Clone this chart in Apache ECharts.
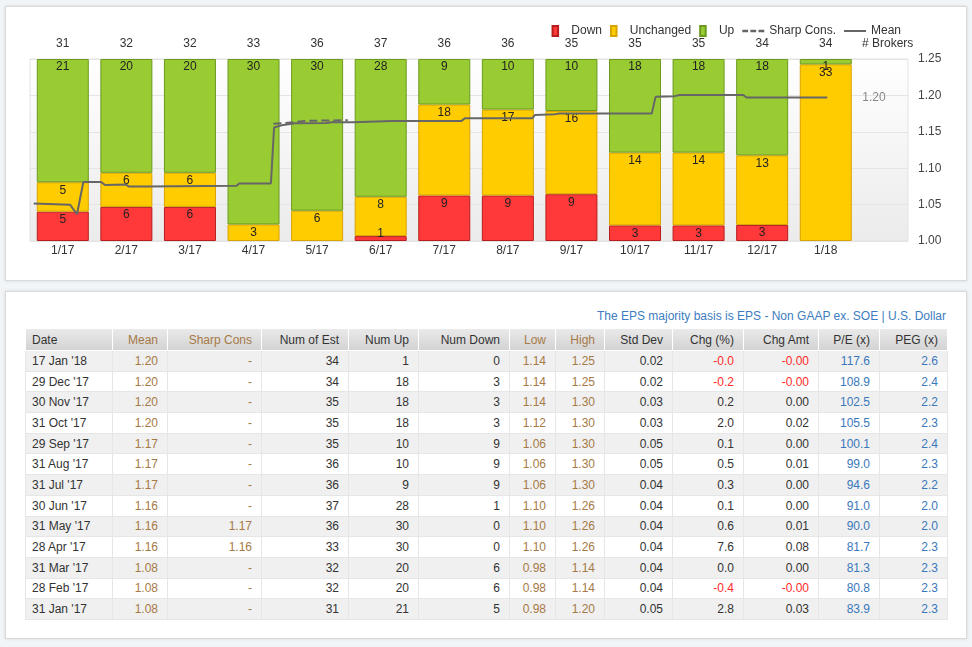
<!DOCTYPE html>
<html>
<head>
<meta charset="utf-8">
<title>EPS Estimates</title>
<script src="https://cdn.jsdelivr.net/npm/echarts@6/dist/echarts.min.js"></script>
<style>
  body { margin: 0; background: #f2f5f7; font-family: Arial, "Liberation Sans", sans-serif; }
  .panel { position: absolute; left: 5px; width: 960px; background: #fff; border: 1px solid #d9d9d9; box-shadow: 0 0 3px rgba(0,0,0,0.12); }
  #top-panel { top: 6px; height: 273px; }
  #bottom-panel { top: 291px; height: 346px; }
  #chart { position: absolute; left: 0; top: 0; width: 972px; height: 285px; }
  #basis { position: absolute; right: 26px; top: 309px; font-size: 12px; color: #3d7cc0; }
  #est-table { position: absolute; left: 25px; top: 329px; width: 922px; border-collapse: collapse; table-layout: fixed; font-size: 12px; color: #333; }
  #est-table th { height: 21px; padding: 0 9px 0 6px; font-weight: normal; text-align: right; background: linear-gradient(#e9e9e9, #d3d3d3); border: 1px solid #fff; border-top: 0; }
  #est-table td { height: 19.7px; padding: 0 9px 0 6px; text-align: right; border: 1px solid #e6e6e6; }
  #est-table tr:nth-child(even) td { background: #f0f0f0; }
  #est-table .left { text-align: left; }
  .brown { color: #a67a47; }
  .neg { color: #ff2b2b; }
  .blue { color: #3a78bb; }
</style>
</head>
<body>
<div id="top-panel" class="panel"></div>
<div id="bottom-panel" class="panel"></div>
<div id="chart"></div>
<div id="basis">The EPS majority basis is EPS - Non GAAP ex. SOE | U.S. Dollar</div>
<table id="est-table"></table>
<script>
  // chart data, one entry per month
  var months = ['1/17','2/17','3/17','4/17','5/17','6/17','7/17','8/17','9/17','10/17','11/17','12/17','1/18'];
  var brokers = [31, 32, 32, 33, 36, 37, 36, 36, 35, 35, 35, 34, 34];
  var downCount = [5, 6, 6, 0, 0, 1, 9, 9, 9, 3, 3, 3, 0];
  var unchCount = [5, 6, 6, 3, 6, 8, 18, 17, 16, 14, 14, 13, 33];
  var upCount = [21, 20, 20, 30, 30, 28, 9, 10, 10, 18, 18, 18, 1];

  // mean / sharp consensus tracks (x in months from 1/17)
  var meanX = [-0.46, 0.11, 0.22, 0.32, 0.60, 0.66, 0.99, 1.03, 1.32, 1.35, 2.73, 2.77, 3.27, 3.32, 3.44, 3.65, 4.15, 4.22, 4.56, 5.17, 6.27, 6.32, 7.38, 7.42, 7.74, 7.79, 9.26, 9.32, 9.62, 9.70, 10.70, 10.75, 12.02];
  var meanY = [1.0515, 1.0499, 1.0367, 1.081, 1.081, 1.077, 1.0776, 1.075, 1.075, 1.076, 1.076, 1.079, 1.079, 1.156, 1.159, 1.1617, 1.162, 1.163, 1.163, 1.165, 1.165, 1.1685, 1.1685, 1.173, 1.174, 1.175, 1.175, 1.198, 1.199, 1.2005, 1.2005, 1.197, 1.197];
  var sharpX = [3.31, 3.49, 3.83, 4.48];
  var sharpY = [1.161, 1.162, 1.165, 1.166];
  var meanTicks = [1.00, 1.05, 1.10, 1.15, 1.20, 1.25];

  // table data, newest first
  var tDate = ["17 Jan '18","29 Dec '17","30 Nov '17","31 Oct '17","29 Sep '17","31 Aug '17","31 Jul '17","30 Jun '17","31 May '17","28 Apr '17","31 Mar '17","28 Feb '17","31 Jan '17"];
  var tMean = ['1.20','1.20','1.20','1.20','1.17','1.17','1.17','1.16','1.16','1.16','1.08','1.08','1.08'];
  var tSharp = ['-','-','-','-','-','-','-','-','1.17','1.16','-','-','-'];
  var tNumEst = [34,34,35,35,35,36,36,37,36,33,32,32,31];
  var tNumUp = [1,18,18,18,10,10,9,28,30,30,20,20,21];
  var tNumDown = [0,3,3,3,9,9,9,1,0,0,6,6,5];
  var tLow = ['1.14','1.14','1.14','1.12','1.06','1.06','1.06','1.10','1.10','1.10','0.98','0.98','0.98'];
  var tHigh = ['1.25','1.25','1.30','1.30','1.30','1.30','1.30','1.26','1.26','1.26','1.14','1.14','1.20'];
  var tStd = ['0.02','0.02','0.03','0.03','0.05','0.05','0.04','0.04','0.04','0.04','0.04','0.04','0.05'];
  var tChgPct = ['-0.0','-0.2','0.2','2.0','0.1','0.5','0.3','0.1','0.6','7.6','0.0','-0.4','2.8'];
  var tChgAmt = ['-0.00','-0.00','0.00','0.02','0.00','0.01','0.00','0.00','0.01','0.08','0.00','-0.00','0.03'];
  var tPE = ['117.6','108.9','102.5','105.5','100.1','99.0','94.6','91.0','90.0','81.7','81.3','80.8','83.9'];
  var tPEG = ['2.6','2.4','2.2','2.3','2.4','2.3','2.2','2.0','2.0','2.3','2.3','2.3','2.3'];

  var headers = ['Date','Mean','Sharp Cons','Num of Est','Num Up','Num Down','Low','High','Std Dev','Chg (%)','Chg Amt','P/E (x)','PEG (x)'];
  var colW = [87, 55, 94, 87, 70, 91, 46, 49, 68, 71, 75, 61, 68];

  ;(function () {
    var html = '<colgroup>';
    colW.forEach(function (w) { html += '<col style="width:' + w + 'px">'; });
    html += '</colgroup><tr>';
    headers.forEach(function (h, i) {
      var cls = (i === 0 ? 'left' : '') + ([1, 2, 6, 7].indexOf(i) >= 0 ? ' brown' : '');
      html += '<th class="' + cls + '">' + h + '</th>';
    });
    html += '</tr>';
    for (var r = 0; r < tDate.length; r++) {
      var neg1 = tChgPct[r].charAt(0) === '-' ? 'neg' : '';
      var neg2 = tChgAmt[r].charAt(0) === '-' ? 'neg' : '';
      html += '<tr>' +
        '<td class="left">' + tDate[r] + '</td>' +
        '<td class="brown">' + tMean[r] + '</td>' +
        '<td class="brown">' + tSharp[r] + '</td>' +
        '<td>' + tNumEst[r] + '</td>' +
        '<td>' + tNumUp[r] + '</td>' +
        '<td>' + tNumDown[r] + '</td>' +
        '<td class="brown">' + tLow[r] + '</td>' +
        '<td class="brown">' + tHigh[r] + '</td>' +
        '<td>' + tStd[r] + '</td>' +
        '<td class="' + neg1 + '">' + tChgPct[r] + '</td>' +
        '<td class="' + neg2 + '">' + tChgAmt[r] + '</td>' +
        '<td class="blue">' + tPE[r] + '</td>' +
        '<td class="blue">' + tPEG[r] + '</td>' +
        '</tr>';
    }
    document.getElementById('est-table').innerHTML = html;
  })();

  ;(function () {
    var myChart = echarts.init(document.getElementById('chart'));

    // share of brokers, zero counts left empty; a thin bottom bar keeps its label inside the plot
    function pctData(counts, atBottom) {
      return counts.map(function (c, i) {
        if (!c) return null;
        var pct = c / brokers[i] * 100;
        if (atBottom && pct < 8) {
          return { value: pct, label: { position: 'insideBottom', distance: 1 } };
        }
        return pct;
      });
    }
    function barLabel(counts) {
      return {
        show: true, position: 'insideTop', distance: 2,
        color: '#222', fontSize: 12, fontFamily: 'Arial',
        formatter: function (p) { return counts[p.dataIndex] ? String(counts[p.dataIndex]) : ''; }
      };
    }
    var meanData = meanX.map(function (x, i) { return [x, meanY[i]]; });
    var sharpData = sharpX.map(function (x, i) { return [x, sharpY[i]]; });
    var rectIcon = 'path://M0,0H5V9H0Z';
    var slot = 63.58;
    var xMin = -0.519, xMax = 13.29;

    var option = {
      animation: false,
      textStyle: { fontFamily: 'Arial, "Liberation Sans", sans-serif' },
      legend: {
        right: 66, top: 20, itemWidth: 22, itemHeight: 10, itemGap: 8,
        textStyle: { color: '#333', fontSize: 12 },
        data: [
          { name: 'Down', icon: rectIcon },
          { name: 'Unchanged', icon: rectIcon },
          { name: 'Up', icon: rectIcon },
          { name: 'Sharp Cons.', icon: 'path://M0,0h5v2h-5z M7,0h5v2h-5z M14,0h5v2h-5z' },
          { name: 'Mean', icon: 'path://M0,0h22v2h-22z' }
        ]
      },
      graphic: [{
        type: 'text', left: 862, top: 38,
        style: { text: '# Brokers', fill: '#333', font: '12px Arial' }
      }],
      grid: [{
        // bars: 13 month slots
        left: 31, width: slot * 13, top: 59, height: 182
      }, {
        // plot frame, right axis and lines
        left: 30, right: 64, top: 59, height: 182, show: true,
        borderColor: '#e3e3e3', borderWidth: 1,
        backgroundColor: { type: 'linear', x: 0, y: 0, x2: 0, y2: 1,
          colorStops: [{ offset: 0, color: '#ffffff' }, { offset: 1, color: '#ebebeb' }] }
      }],
      xAxis: [{
        type: 'category', gridIndex: 0, data: months,
        axisLine: { show: false }, axisTick: { show: false }, splitLine: { show: false },
        axisLabel: { interval: 0, margin: 4, color: '#333', fontSize: 12 }
      }, {
        type: 'category', gridIndex: 0, position: 'top', data: brokers.map(String),
        axisLine: { show: false }, axisTick: { show: false }, splitLine: { show: false },
        axisLabel: { interval: 0, margin: 9, color: '#333', fontSize: 12 }
      }, {
        type: 'value', gridIndex: 1, min: xMin, max: xMax, show: false, splitLine: { show: false }
      }],
      yAxis: [{
        type: 'value', gridIndex: 0, min: 0, max: 100, show: false, splitLine: { show: false }
      }, {
        type: 'value', gridIndex: 1, position: 'right', min: meanTicks[0], max: meanTicks[meanTicks.length - 1], interval: 0.05,
        axisLine: { show: false },
        axisTick: { show: true, length: 8, lineStyle: { color: '#e0e0e0' } },
        splitLine: { lineStyle: { color: '#e4e4e4' } },
        axisLabel: { margin: 10, color: '#444', fontSize: 12, formatter: function (v) { return v.toFixed(2); } }
      }],
      series: [{
        name: 'Down', type: 'bar', stack: 'brk', barWidth: 52, xAxisIndex: 0, yAxisIndex: 0,
        itemStyle: { color: '#ff3939', borderColor: '#b81d1d', borderWidth: 1 },
        label: barLabel(downCount), data: pctData(downCount, true)
      }, {
        name: 'Unchanged', type: 'bar', stack: 'brk', barWidth: 52, xAxisIndex: 0, yAxisIndex: 0,
        itemStyle: { color: '#ffcc00', borderColor: '#d9a300', borderWidth: 1 },
        label: barLabel(unchCount), data: pctData(unchCount, false)
      }, {
        name: 'Up', type: 'bar', stack: 'brk', barWidth: 52, xAxisIndex: 0, yAxisIndex: 0,
        itemStyle: { color: '#99cc33', borderColor: '#6b9a1e', borderWidth: 1 },
        label: barLabel(upCount), data: pctData(upCount, false)
      }, {
        name: 'Sharp Cons.', type: 'line', xAxisIndex: 2, yAxisIndex: 1, symbol: 'none', z: 5,
        lineStyle: { color: '#666', width: 2, type: 'dashed' }, itemStyle: { color: '#666' },
        data: sharpData
      }, {
        name: 'Mean', type: 'line', xAxisIndex: 2, yAxisIndex: 1, symbol: 'none', z: 6,
        lineStyle: { color: '#666', width: 2 }, itemStyle: { color: '#666' },
        endLabel: { show: true, distance: 35, color: '#888', fontSize: 12,
          formatter: function (p) { return p.value[1].toFixed(2); } },
        data: meanData
      }]
    };

    myChart.setOption(option);
  })();
</script>
</body>
</html>
